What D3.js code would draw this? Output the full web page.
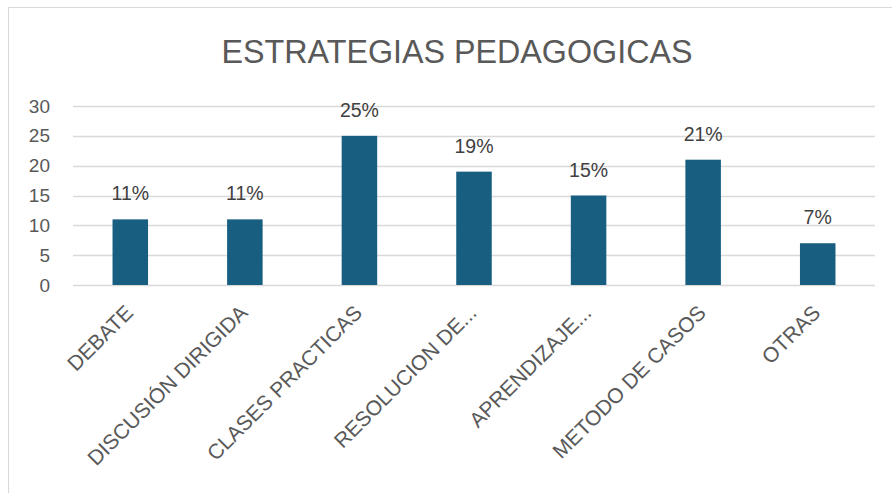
<!DOCTYPE html>
<html>
<head>
<meta charset="utf-8">
<script src="https://cdn.jsdelivr.net/npm/d3@7"></script>
<style>
  body { margin: 0; background: #fff; }
  svg { display: block; font-family: "Liberation Sans", Arial, sans-serif; }
</style>
</head>
<body>
<svg width="892" height="493"></svg>
<script>
const categories = ["DEBATE", "DISCUSIÓN DIRIGIDA", "CLASES PRACTICAS", "RESOLUCION DE...", "APRENDIZAJE...", "METODO DE CASOS", "OTRAS"];
const values = [11, 11, 25, 19, 15, 21, 7];
const yTicks = [0, 5, 10, 15, 20, 25, 30];

var svg = d3.select("svg");

// chart frame
svg.append("rect")
    .attr("x", 8.5).attr("y", 7.5)
    .attr("width", 900).attr("height", 500)
    .attr("fill", "#fff")
    .attr("stroke", "#d9d9d9");

// title
svg.append("text")
    .attr("x", 457).attr("y", 63)
    .attr("text-anchor", "middle")
    .attr("font-size", 33)
    .attr("fill", "#595959")
    .attr("textLength", 471)
    .attr("lengthAdjust", "spacingAndGlyphs")
    .text("ESTRATEGIAS PEDAGOGICAS");

var x = d3.scaleBand()
    .domain(categories)
    .range([73, 875])
    .paddingInner(0.69)
    .paddingOuter(0.345);

var y = d3.scaleLinear()
    .domain([0, 30])
    .range([285, 106]);

// gridlines
svg.append("g")
    .selectAll("line")
    .data(yTicks)
    .enter()
    .append("line")
    .attr("x1", 73).attr("x2", 875)
    .attr("y1", d => Math.round(y(d)) + 0.5)
    .attr("y2", d => Math.round(y(d)) + 0.5)
    .attr("stroke", "#d9d9d9")
    .attr("stroke-width", 1.3);

// y axis labels
var yAxis = d3.axisLeft(y).tickValues(yTicks).tickSize(0).tickPadding(0);
var yg = svg.append("g")
    .attr("transform", "translate(50,0)")
    .call(yAxis);
yg.select(".domain").remove();
yg.selectAll("text")
    .attr("font-size", 19)
    .attr("fill", "#595959")
    .attr("font-family", "Liberation Sans, Arial, sans-serif");

// bars
svg.append("g")
    .selectAll("rect")
    .data(values)
    .enter()
    .append("rect")
    .attr("x", (d, i) => x(categories[i]))
    .attr("width", x.bandwidth())
    .attr("y", d => y(d))
    .attr("height", d => y(0) - y(d))
    .attr("fill", "#175E80");

// data labels
svg.append("g")
    .selectAll("text")
    .data(values)
    .enter()
    .append("text")
    .attr("x", (d, i) => x(categories[i]) + x.bandwidth() / 2)
    .attr("y", d => y(d) - 19)
    .attr("text-anchor", "middle")
    .attr("font-size", 19.5)
    .attr("fill", "#404040")
    .text(d => d + "%");

// category labels
var xAxis = d3.axisBottom(x).tickSize(0).tickPadding(0);
var xg = svg.append("g")
    .attr("transform", "translate(0,285)")
    .call(xAxis);
xg.select(".domain").remove();
xg.selectAll("text")
    .attr("font-size", 21)
    .attr("fill", "#595959")
    .attr("font-family", "Liberation Sans, Arial, sans-serif")
    .attr("text-anchor", "end")
    .attr("dy", null)
    .attr("y", 0)
    .attr("transform", "translate(4,29) rotate(-45)");
</script>
</body>
</html>
